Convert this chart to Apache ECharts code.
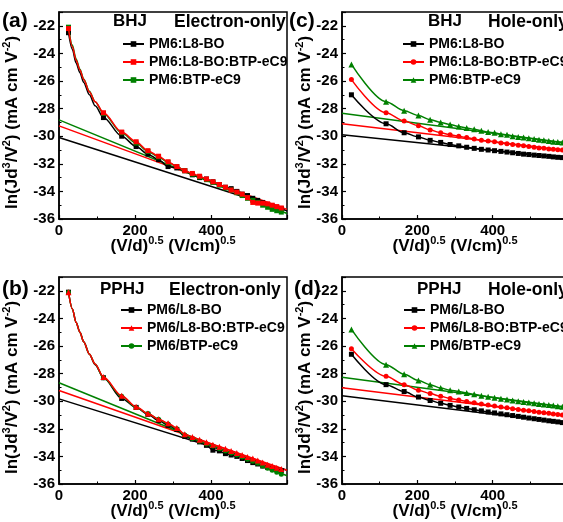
<!DOCTYPE html>
<html><head><meta charset="utf-8">
<script src="https://cdn.jsdelivr.net/npm/echarts@6/dist/echarts.min.js"></script>
<style>html,body{margin:0;padding:0;background:#fff}#c{width:563px;height:522px}</style>
</head><body><div id="c"></div>
<script>
// ---------- data ----------
const xE = [25, 35, 45, 55, 65, 80, 95, 117, 165, 203, 234, 262, 287, 310, 331, 351, 370, 388, 405, 422, 438, 453, 468, 482, 496, 510, 523, 536, 549, 561, 573, 585];
const xH = [25, 117, 165, 203, 234, 262, 287, 310, 331, 351, 370, 388, 405, 422, 438, 453, 468, 482, 496, 510, 523, 536, 549, 561, 573, 585];
const xFit = [0, 600];

const namesBHJ = ['PM6:L8-BO', 'PM6:L8-BO:BTP-eC9', 'PM6:BTP-eC9'];
const namesPPHJ = ['PM6/L8-BO', 'PM6/L8-BO:BTP-eC9', 'PM6/BTP-eC9'];

// (a) BHJ electron-only
const aBlack = [-22.5, -23.7, -24.7, -25.4, -26.1, -27.0, -27.8, -28.65, -30.0, -30.75, -31.3, -31.7, -32.2, -32.3, -32.5, -32.8, -33.0, -33.1, -33.3, -33.5, -33.7, -33.8, -34.0, -34.2, -34.3, -34.5, -34.65, -34.8, -34.95, -35.05, -35.15, -35.25];
const aRed = [-22.2, -23.5, -24.5, -25.2, -25.9, -26.8, -27.5, -28.3, -29.7, -30.4, -31.05, -31.45, -31.85, -32.2, -32.5, -32.7, -32.9, -33.1, -33.3, -33.5, -33.7, -33.9, -34.05, -34.2, -34.45, -34.8, -34.85, -34.85, -34.9, -35.0, -35.1, -35.2];
const aGreen = [-22.1, -23.4, -24.4, -25.15, -25.85, -26.75, -27.5, -28.35, -29.75, -30.5, -31.1, -31.5, -31.9, -32.2, -32.5, -32.75, -32.95, -33.15, -33.35, -33.55, -33.75, -33.9, -34.1, -34.3, -34.5, -34.65, -34.8, -35.0, -35.15, -35.3, -35.4, -35.5];
const aFitBlack = [-30.1, -35.4];
const aFitRed = [-29.25, -35.3];
const aFitGreen = [-28.82, -35.6];

// (b) PPHJ electron-only
const bBlack = [-22.1, -23.3, -24.3, -25.0, -25.7, -26.6, -27.35, -28.3, -29.8, -30.45, -30.95, -31.4, -31.75, -32.05, -32.55, -32.75, -32.95, -33.2, -33.55, -33.6, -33.8, -33.9, -34.0, -34.15, -34.3, -34.45, -34.55, -34.7, -34.8, -34.88, -34.95, -35.02];
const bRed = [-22.1, -23.3, -24.3, -25.0, -25.7, -26.6, -27.3, -28.25, -29.6, -30.4, -30.9, -31.3, -31.6, -31.95, -32.4, -32.6, -32.8, -32.97, -33.15, -33.3, -33.45, -33.6, -33.75, -33.9, -34.05, -34.15, -34.3, -34.45, -34.6, -34.7, -34.82, -34.92];
const bGreen = [-22.1, -23.3, -24.3, -25.0, -25.7, -26.6, -27.3, -28.3, -29.65, -30.45, -30.9, -31.3, -31.65, -32.0, -32.45, -32.7, -32.9, -33.1, -33.25, -33.45, -33.6, -33.75, -33.9, -34.05, -34.2, -34.35, -34.5, -34.7, -34.85, -35.0, -35.15, -35.3];
const bFitBlack = [-29.83, -35.0];
const bFitRed = [-29.22, -35.0];
const bFitGreen = [-28.66, -35.4];

// (c) BHJ hole-only
const cBlack = [-27.0, -29.1, -29.75, -30.05, -30.3, -30.45, -30.6, -30.7, -30.8, -30.88, -30.95, -31.0, -31.05, -31.1, -31.15, -31.2, -31.25, -31.3, -31.33, -31.37, -31.4, -31.43, -31.46, -31.5, -31.53, -31.55];
const cRed = [-25.9, -28.3, -28.9, -29.25, -29.55, -29.75, -29.9, -30.0, -30.1, -30.2, -30.3, -30.35, -30.4, -30.5, -30.55, -30.6, -30.65, -30.7, -30.75, -30.8, -30.85, -30.88, -30.92, -30.95, -30.98, -31.0];
const cGreen = [-24.8, -27.5, -28.15, -28.5, -28.8, -29.0, -29.15, -29.3, -29.4, -29.5, -29.6, -29.7, -29.75, -29.85, -29.9, -30.0, -30.05, -30.1, -30.15, -30.2, -30.25, -30.3, -30.35, -30.4, -30.42, -30.45];
const cFitBlack = [-29.9, -31.6];
const cFitRed = [-29.1, -31.05];
const cFitGreen = [-28.33, -30.5];

// (d) PPHJ hole-only
const dBlack = [-26.6, -28.8, -29.3, -29.7, -29.95, -30.15, -30.3, -30.42, -30.52, -30.62, -30.7, -30.78, -30.85, -30.92, -30.98, -31.04, -31.1, -31.16, -31.22, -31.27, -31.32, -31.37, -31.42, -31.46, -31.5, -31.55];
const dRed = [-26.2, -28.2, -28.8, -29.2, -29.45, -29.65, -29.8, -29.92, -30.02, -30.12, -30.2, -30.28, -30.35, -30.42, -30.48, -30.54, -30.6, -30.65, -30.7, -30.75, -30.8, -30.84, -30.88, -30.92, -30.96, -31.0];
const dGreen = [-24.8, -27.35, -28.05, -28.5, -28.8, -29.05, -29.2, -29.3, -29.4, -29.5, -29.6, -29.68, -29.75, -29.82, -29.88, -29.95, -30.0, -30.05, -30.1, -30.15, -30.2, -30.24, -30.28, -30.32, -30.36, -30.4];
const dFitBlack = [-29.6, -31.6];
const dFitRed = [-29.02, -31.05];
const dFitGreen = [-28.27, -30.45];

const yTicks = [-36, -34, -32, -30, -28, -26, -24, -22];
const xTicks = [0, 200, 400];

// ---------- styling / building ----------
const FONT = 'Liberation Sans, Arial, Helvetica, sans-serif';
const COLORS = ['#000000', '#ff0000', '#008000'];

const panels = [
  { id: 'a', grid: { left: 59, top: 12, width: 228, height: 207 }, x: xE, names: namesBHJ,
    ys: [aBlack, aRed, aGreen], fits: [aFitBlack, aFitRed, aFitGreen], symbols: ['rect', 'rect', 'rect'],
    yGap: 36, legend: { left: 122, top: 37 } },
  { id: 'b', grid: { left: 59, top: 277, width: 228, height: 207 }, x: xE, names: namesPPHJ,
    ys: [bBlack, bRed, bGreen], fits: [bFitBlack, bFitRed, bFitGreen], symbols: ['rect', 'triangle', 'circle'],
    yGap: 36, legend: { left: 120, top: 303 } },
  { id: 'c', grid: { left: 342, top: 12, width: 226, height: 207 }, x: xH, names: namesBHJ,
    ys: [cBlack, cRed, cGreen], fits: [cFitBlack, cFitRed, cFitGreen], symbols: ['rect', 'circle', 'triangle'],
    yGap: 26, legend: { left: 402, top: 37 } },
  { id: 'd', grid: { left: 342, top: 277, width: 226, height: 207 }, x: xH, names: namesPPHJ,
    ys: [dBlack, dRed, dGreen], fits: [dFitBlack, dFitRed, dFitGreen], symbols: ['rect', 'circle', 'triangle'],
    yGap: 26, legend: { left: 403, top: 303 } }
];

const nameRich = {
  m: { fontSize: 17, fontWeight: 'bold', fontFamily: FONT, color: '#000', lineHeight: 22 },
  s: { fontSize: 11, fontWeight: 'bold', fontFamily: FONT, color: '#000', lineHeight: 12, verticalAlign: 'top' }
};

const grids = [], xAxes = [], yAxes = [], series = [], legends = [];
panels.forEach((p, i) => {
  grids.push(Object.assign({ show: true, borderColor: '#000', borderWidth: 1.5, backgroundColor: 'transparent',
    containLabel: false, outerBoundsMode: 'none' }, p.grid));
  xAxes.push({
    type: 'value', gridIndex: i, min: 0, max: 600, interval: 200,
    name: '{m|(V/d)}{s|0.5}{m| (V/cm)}{s|0.5}', nameLocation: 'middle', nameGap: 16, nameMoveOverlap: false,
    nameTextStyle: { fontSize: 17, fontWeight: 'bold', fontFamily: FONT, color: '#000', rich: nameRich },
    axisLine: { show: true, onZero: false, lineStyle: { color: '#000', width: 1.5 } },
    axisTick: { show: true, inside: true, length: 4, lineStyle: { color: '#000', width: 1.2 } },
    minorTick: { show: true, splitNumber: 2, length: 2.5, lineStyle: { color: '#000', width: 1 } },
    splitLine: { show: false }, minorSplitLine: { show: false },
    axisLabel: { color: '#000', fontSize: 15, fontWeight: 'bold', fontFamily: FONT, margin: 4,
      formatter: v => (xTicks.indexOf(v) >= 0 ? String(v) : '') }
  });
  yAxes.push({
    type: 'value', gridIndex: i, min: -36, max: -21, interval: 2,
    name: '{m|ln(Jd}{s|3}{m|/V}{s|2}{m|) (mA cm V}{s|-2}{m|)}', nameLocation: 'middle', nameRotate: 90,
    nameGap: p.yGap, nameMoveOverlap: false,
    nameTextStyle: { fontSize: 17, fontWeight: 'bold', fontFamily: FONT, color: '#000', rich: nameRich,
      padding: [0, 14, 0, 0] },
    axisLine: { show: true, onZero: false, lineStyle: { color: '#000', width: 1.5 } },
    axisTick: { show: true, inside: true, length: 4, lineStyle: { color: '#000', width: 1.2 } },
    minorTick: { show: true, splitNumber: 2, length: 2.5, lineStyle: { color: '#000', width: 1 } },
    splitLine: { show: false }, minorSplitLine: { show: false },
    axisLabel: { color: '#000', fontSize: 15, fontWeight: 'bold', fontFamily: FONT, margin: 4,
      formatter: v => (yTicks.indexOf(v) >= 0 ? String(v) : '') }
  });
  // fit lines (below data)
  p.fits.forEach((f, k) => {
    series.push({
      type: 'line', name: 'fit-' + p.id + k, xAxisIndex: i, yAxisIndex: i, symbol: 'none', z: 2,
      data: xFit.map((x, j) => [x, f[j]]),
      lineStyle: { color: COLORS[k], width: 1.5 }, itemStyle: { color: COLORS[k] },
      animation: false, silent: true
    });
  });
  // data curves: draw order black, green, red
  [0, 2, 1].forEach(k => {
    series.push({
      type: 'line', name: p.id + '|' + p.names[k], xAxisIndex: i, yAxisIndex: i, z: 3 + (k === 1 ? 2 : k === 2 ? 1 : 0),
      data: p.x.map((x, j) => [x, p.ys[k][j]]),
      symbol: p.symbols[k],
      symbolSize: (v) => (v[0] > 26 && v[0] < 110 ? 0 : (p.symbols[k] === 'triangle' ? 6 : 5)),
      showAllSymbol: true, smooth: 0.3, smoothMonotone: 'x',
      lineStyle: { color: COLORS[k], width: 1.5 }, itemStyle: { color: COLORS[k], borderWidth: 0 },
      animation: false, silent: true
    });
  });
  legends.push({
    orient: 'vertical', left: p.legend.left, top: p.legend.top, padding: 0, itemGap: 4,
    itemWidth: 21, itemHeight: 7, selectedMode: false,
    data: p.names.map(n => p.id + '|' + n),
    formatter: n => n.split('|')[1],
    textStyle: { fontSize: 14, fontWeight: 'bold', fontFamily: FONT, color: '#000', lineHeight: 14 }
  });
});

function txt(text, left, top, size) {
  return { type: 'text', left: left, top: top, silent: true,
    style: { text: text, fontSize: size, fontWeight: 'bold', fontFamily: FONT, fill: '#000' } };
}

const graphics = [
  txt('(a)', 2, 11, 21), txt('(b)', 2, 279, 21), txt('(c)', 289, 11, 21), txt('(d)', 294, 279, 21),
  txt('BHJ', 113, 13, 17), txt('Electron-only', 174, 13, 17.5),
  txt('PPHJ', 100, 281, 17), txt('Electron-only', 169, 281, 17.5),
  txt('BHJ', 428, 13, 17), txt('Hole-only', 488, 13, 17.5),
  txt('PPHJ', 417, 281, 17), txt('Hole-only', 488, 281, 17.5)
];

const chart = echarts.init(document.getElementById('c'), null, { renderer: 'canvas', width: 563, height: 522 });
chart.setOption({
  backgroundColor: '#ffffff',
  animation: false,
  grid: grids, xAxis: xAxes, yAxis: yAxes, series: series, legend: legends, graphic: graphics
});
</script>
</body></html>
